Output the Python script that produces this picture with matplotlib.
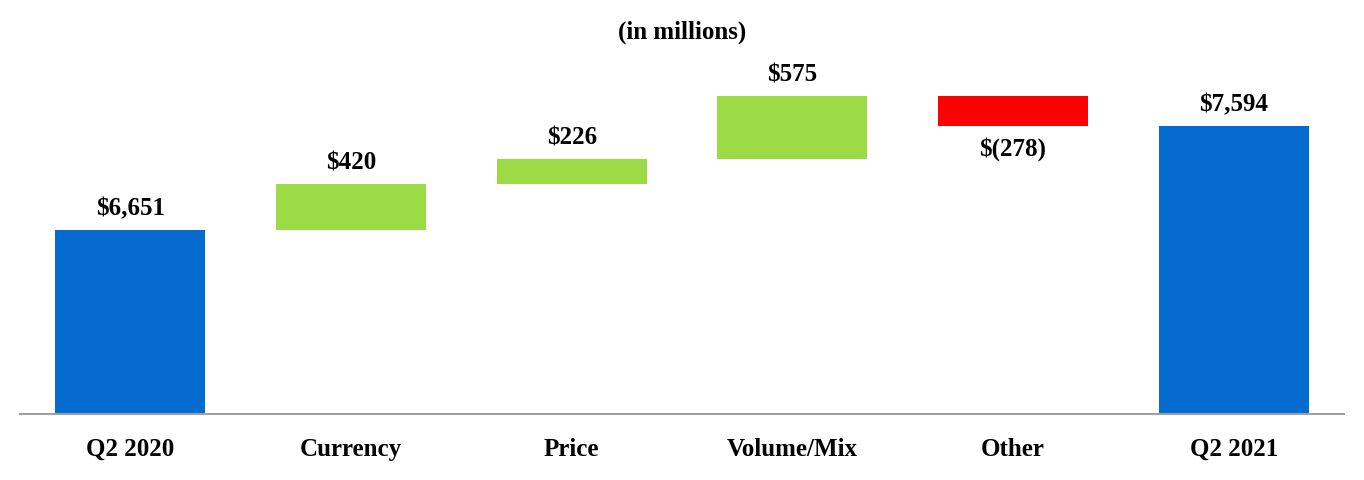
import numpy as np
import matplotlib.pyplot as plt

# waterfall data (in millions)
categories = ["Q2 2020", "Currency", "Price", "Volume/Mix", "Other", "Q2 2021"]
changes = [6651, 420, 226, 575, -278, 7594]
labels = ["$6,651", "$420", "$226", "$575", "$(278)", "$7,594"]
is_total = [True, False, False, False, False, True]

plt.rcParams['font.family'] = ['Liberation Serif', 'DejaVu Serif']

fig = plt.figure(figsize=(13.64, 4.8), dpi=100)
ax = fig.add_axes([20 / 1364, 66 / 480, 1324 / 1364, 354 / 480])

x = np.arange(len(categories))
running = 0
for i, (c, t) in enumerate(zip(changes, is_total)):
    if t:
        bottom, height = 0, c
        running = c
        color = "#066BD1"
    else:
        bottom, height = running, c
        running += c
        color = "#9CDB45" if c > 0 else "#FF0000"
    ax.bar(x[i], height, bottom=bottom, width=0.68, color=color)
    top = bottom + height
    if c >= 0:
        ax.annotate(labels[i], (x[i], top), xytext=(0, 7), textcoords="offset points",
                    ha="center", va="bottom", fontsize=18, fontweight="bold")
    else:
        ax.annotate(labels[i], (x[i], top), xytext=(0, -8), textcoords="offset points",
                    ha="center", va="top", fontsize=18, fontweight="bold")

ax.set_xlim(-0.5, len(categories) - 0.5)
ax.set_ylim(4977, 8198)
ax.set_xticks(x)
ax.set_xticklabels(categories, fontsize=18, fontweight="bold")
ax.tick_params(axis="x", length=0, pad=17)
ax.set_yticks([])
for s in ["top", "right", "left"]:
    ax.spines[s].set_visible(False)
ax.spines["bottom"].set_color("#A0A0A0")
ax.spines["bottom"].set_linewidth(1.5)

fig.text(0.5, 1 - 32 / 480, "(in millions)", ha="center", va="center",
         fontsize=18, fontweight="bold")

fig.savefig("out.png", dpi=100)
